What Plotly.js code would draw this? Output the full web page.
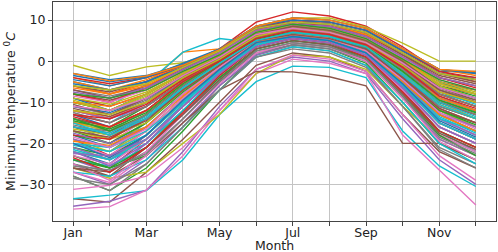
<!DOCTYPE html>
<html>
<head>
<meta charset="utf-8">
<script src="https://cdn.plot.ly/plotly-3.0.1.min.js"></script>
<style>
html,body{margin:0;padding:0;background:#fff;}
#chart{width:498px;height:252px;}
</style>
</head>
<body>
<div id="chart"></div>
<script>
const months = ['Jan','Feb','Mar','Apr','May','Jun','Jul','Aug','Sep','Oct','Nov','Dec'];
const tickLabels = ['Jan','Mar','May','Jul','Sep','Nov'];
const yTicks = [-30,-20,-10,0,10];

const s01 = [-5,-7,-5,-1.5,2.5,7.5,9.5,9,7,2,-3,-4];
const s02 = [-8,-10,-5.8,2.2,3,8,9,8.5,6.5,1.5,-4,-6];
const s03 = [-12,-14,-10,-4,1,6,8,7,4.5,-1,-7,-10];
const s04 = [-6,-8,-5,-1,3,9.5,12,11,8.5,3.5,-2.5,-4.5];
const s05 = [-15,-17,-12,-5,0.5,6,7.5,6.5,4,-2,-9,-12];
const s06 = [-10,-12,-8,-3,1.5,7,9,8,5.5,0,-6,-8];
const s07 = [-18,-20,-14,-6,0,5.5,7,6,3,-4,-12,-15];
const s08 = [-20,-22,-16,-8,-1,5,6.5,5.5,2.5,-5,-13,-17];
const s09 = [-1,-3.5,-1.4,-0.4,2.5,7,10.5,10.5,8.3,4.4,0,0];
const s10 = [-9,-11,-5.5,2.2,5.5,4.5,6,5.5,3.5,-2,-8,-10];
const s11 = [-22,-25,-18,-10,-2,4.5,6,5,2,-6,-15,-19];
const s12 = [-4,-6,-4,-1,2.5,8.5,10,9.5,7.5,3,-2,-3];
const s13 = [-14,-16,-11,-5,0,5.5,7.5,6.5,4,-1.5,-8,-11];
const s14 = [-19,-23,-17,-9,-1.5,5,7,6,3,-4,-12,-16];
const s15 = [-11,-13,-9,-3.5,1,6.5,8.5,7.5,5,-0.5,-6,-9];
const s16 = [-25,-28,-21,-13,-4,3,5,4,1,-7,-17,-21];
const s17 = [-7,-9,-6,-2,2,7.5,9,8.5,6,1,-4,-6];
const s18 = [-16,-19,-13,-6,0,5.5,7,6,3.5,-3,-10,-13];
const s19 = [-21,-24,-19,-11,-3,4,6,5,2,-5.5,-14,-18];
const s20 = [-13,-15,-10,-4.5,0.5,6,8,7,4.5,-1,-7.5,-10.5];
const s21 = [-3,-4.5,-3.5,-0.8,2.8,8,10,9.5,7.5,2.5,-2.5,-2.5];
const s22 = [-17,-19,-14,-7,-0.5,5,7,6,3.5,-3,-10,-14];
const s23 = [-28,-31.5,-26,-17,-7,1.5,4,3,-0.5,-10,-20,-24];
const s24 = [-9,-11,-8,-3,1.5,7,9,8,5.5,0.5,-5,-7];
const s25 = [-24,-27,-20,-12,-3.5,3.5,5.5,4.5,1,-7,-16,-20];
const s26 = [-33.5,-34.3,-27,-19,-10,-1,2,1,-2.5,-13,-22,-26];
const s27 = [-12,-14,-10,-4,0.5,6,8,7,4.5,-1,-7,-10];
const s28 = [-28,-31.5,-25,-16,-6,1,3.5,2.5,-1,-11,-21,-25];
const s29 = [-15,-17,-13,-6,-0.5,5,6.5,5.5,3,-3.5,-11,-14];
const s30 = [-33.5,-32.6,-31.5,-24,-13,-5,-1.2,-1.5,-4,-17,-25.5,-30.5];
const s31 = [-18,-21,-15,-7,-0.5,5,6.5,5.5,2.5,-4.5,-13,-17];
const s32 = [-6,-8,-5.5,-1.5,2.5,8,10,9,7,2,-3,-5];
const s33 = [-10,-12,-9,-3.5,1,6.5,8.5,7.5,5,0,-6,-8.5];
const s34 = [-23,-26,-19,-11,-3,4,6,5,1.5,-6.5,-16,-20];
const s35 = [-35.3,-34.1,-31.4,-22,-11,-2,1,0,-3,-14,-24,-30];
const s36 = [-8,-9.5,-7,-2.5,1.5,6,7.5,6.5,4,-1,-5.5,-7];
const s37 = [-36,-35.4,-31.4,-23,-12,-3,0.5,-0.5,-3,-18,-26.5,-35];
const s38 = [-11,-13,-9.5,-4,0.5,6,8,7,4.5,-1,-7,-9.5];
const s39 = [-26,-28.5,-27,-20,-13,-3,1.5,1,-2,-11,-19,-23];
const s40 = [-20,-22,-17,-9,-1.5,4.5,6.5,5.5,2.5,-5,-14,-18];
const s41 = [-13,-16,-12,-5.5,0,5.5,7.5,6.5,4,-2,-9,-12];
const s42 = [-5,-7,-4.5,-1,3,8.5,10.5,10,8,3,-2,-3.5];
const s43 = [-21,-23,-18,-10,-2.5,4,6,5,2,-6,-15,-19];
const s44 = [-16,-18,-13,-6,0,5.5,7.5,6.5,3.5,-3,-10,-13];
const s45 = [-27,-30,-24,-15,-6,1.5,4,3,0,-9,-19,-23];
const s46 = [-14,-16,-12,-5,0,5,6.5,5.5,3,-3,-10,-13];
const s47 = [-31.2,-30.2,-28,-21,-12,-2,1.5,0.5,-2.5,-13,-23,-29];
const s48 = [-7,-8.5,-6.5,-2,2,7,9,8.5,6,1,-4,-6];
const s49 = [-19,-22,-17,-9,-2,4.5,6.5,5.5,2.5,-5,-13,-17];
const s50 = [-24,-25.5,-21,-13,-4.5,3,5,4,1,-8,-17,-22];
const s51 = [-9,-12,-8,-3,1.5,7,9,8,5.5,0.5,-5,-8];
const s52 = [-22,-24,-18,-10,-2.5,4,6,5,1.5,-6,-15,-19];
const s53 = [-17,-20,-15,-7,-1,5,7,6,3,-4,-12,-15];
const s54 = [-4,-5.5,-4,-1,2.5,8,10,9.5,7.5,2.5,-2.5,-4];
const s55 = [-12,-14,-11,-5,0,5.5,7,6,3.5,-2,-9,-12];
const s56 = [-26,-28,-23,-15,-7,-2.5,-2.6,-3.8,-6,-20,-20,-24];
const s57 = [-20,-23,-17,-9,-1.5,4.5,6.5,5.5,2,-5.5,-14,-18];
const s58 = [-25,-27,-22,-14,-5,2,4,3,0,-9,-18,-22];
const s59 = [-10,-12,-8.5,-3.5,1,6.5,8.5,7.5,5,0,-6,-9];
const s60 = [-27,-28,-24,-16,-7,1,3.5,2.5,-1,-10,-20,-25];
const s61 = [-16,-18,-14,-7,-1,5,7,6,3,-3.5,-11,-14];
const s62 = [-12,-13.5,-10,-4.5,0.5,6,8,7,4.5,-1.5,-8,-11];
const s63 = [-23,-26,-21,-12,-4,3,5,4,1,-7.5,-17,-21];
const s64 = [-8,-10,-6.5,-2,2,7.5,9.5,8.5,6,1,-4,-6.5];
const s65 = [-19,-21,-16,-8,-1.5,4.5,6,5,2,-5,-13,-16];
const s66 = [-6,-7.5,-5,-1.5,2.5,7.5,9.5,9,6.5,1.5,-3,-5];
const s67 = [-25,-29,-22,-13,-5,2,4.5,3.5,0.5,-8,-18,-22];
const s68 = [-14,-17,-12,-5,0.5,6,7.5,6.5,4,-2,-8.5,-12];
const s69 = [-17,-19,-16,-8,-1,5,6.5,5.5,2.5,-4,-12,-16];
const s70 = [-22,-24,-20,-12,-3,3.5,5.5,4.5,1.5,-6.5,-16,-20];
const s71 = [-11,-12.5,-9,-4,0.5,6.5,8.5,7.5,5,0,-6.5,-9];
const s72 = [-15,-16,-12,-5.5,0,5.5,7.5,6.5,4,-2.5,-9,-12];
const s73 = [-18,-20,-15,-7.5,-1,5,6.5,5.5,2.5,-4.5,-12,-15.5];
const s74 = [-13,-15,-11,-5,0,6,8,7,4.5,-1.5,-8,-11];
const s75 = [-21,-24,-18,-9.5,-2,4,6,5,2,-5.5,-14,-18];
const s76 = [-7,-9,-6,-2,2,7.5,9.5,9,6.5,1.5,-3.5,-5.5];
const s77 = [-23,-25,-19,-11,-3,3.5,5.5,4.5,1.5,-7,-16,-20];
const s78 = [-16,-17,-14,-7,-1,4.5,6,5,2.5,-4,-11,-14];
const s79 = [-9,-10.5,-7.5,-3,1.5,7,9,8,5.5,0.5,-5,-7.5];
const s80 = [-20,-21,-17,-10,-2.5,4,6,5,2,-6,-14,-17];
const s81 = [-4.5,-6,-4,-0.5,3,8.5,10,9.5,7.5,2.5,-2,-3];
const s82 = [-10,-11,-8,-3,1.5,7,9,8,5.5,0.5,-5.5,-8];
const s83 = [-14,-17,-13,-6,-0.5,5.5,7,6,3.5,-2.5,-9.5,-12.5];
const s84 = [-18,-19,-14,-7,-1,5,7,6,3,-4,-11.5,-15];
const s85 = [-22,-25.5,-20,-11,-3,4,6,5,1.5,-6,-15,-19];
const s86 = [-26,-27,-21,-13,-4.5,3,5,4,0.5,-8,-17.5,-21.5];
const s87 = [-8.5,-10,-7,-2.5,2,7,9,8,5.5,1,-4.5,-7];
const s88 = [-12.5,-15,-11,-5,0.5,6,8,7,4.5,-1,-8,-11];
const s89 = [-16.5,-18,-15,-7,-0.5,5,7,6,3.5,-3,-10.5,-14];
const s90 = [-20.5,-22,-18,-10,-2.5,4,6,5,2,-5,-13.5,-17.5];
const s91 = [-3.5,-5,-3.8,-1,2.8,8.5,10.5,10,8,3,-2,-2.8];
const s92 = [-6.5,-8,-6,-1.5,2.5,7.5,9.5,9,6.5,2,-3,-4.5];
const s93 = [-24,-26,-23,-14,-5,2.5,4.5,3.5,0.5,-8.5,-18,-23];
const s94 = [-13,-14,-10.5,-4.5,0.5,6,8,7,4.5,-1,-7.5,-10];
const s95 = [-17.5,-20,-16,-8,-1.5,4.5,6.5,5.5,2.5,-4.5,-12.5,-16];
const s96 = [-11.5,-13.5,-10,-4,1,6.5,8,7,4.5,-0.5,-7,-10];
const s97 = [-27,-29.5,-23,-14,-5.5,2,4.5,3.5,0,-9,-19.5,-24];
const s98 = [-15.5,-17.5,-13,-6,0,5.5,7.5,6.5,4,-2,-9.5,-13];
const s99 = [-9.5,-12,-8,-3,1.5,7,8.5,7.5,5,0,-5.5,-8];
const s100 = [-21.5,-24,-19,-10.5,-2.5,4,6,5,2,-6,-15,-19];
const s101 = [-5.5,-7,-5,-1.5,2.5,8,9.5,9,7,2,-3,-4.5];
const s102 = [-19.5,-20.5,-16,-8.5,-1.5,4.5,6.5,5.5,2.5,-5,-13,-17];
const s103 = [-14.5,-16.5,-12.5,-5.5,0,5.5,7,6,3.5,-2.5,-9.5,-12.5];
const s104 = [-23.5,-27,-21,-12.5,-3.5,3.5,5.5,4.5,1,-7.5,-17,-21];
const s105 = [-7.5,-9,-6.5,-2,2,7.5,9,8.5,6,1,-4,-6];
const s106 = [-10.5,-13,-9,-3.5,1,6.5,8.5,7.5,5,0,-6.5,-9.5];
const s107 = [-18.5,-21,-16.5,-8,-1.5,5,6.5,5.5,2.5,-4.5,-12.5,-16.5];
const s108 = [-25.5,-26.5,-22.5,-14,-5,2.5,4.5,3.5,0.5,-8.5,-18.5,-22.5];
const s109 = [-12,-13,-10,-4,0.5,6,8,7,4.5,-1,-7.5,-10];
const s110 = [-16,-17.5,-13.5,-6.5,-0.5,5,7,6,3,-3.5,-10.5,-14];
const s111 = [-20,-23.5,-18,-9.5,-2,4.5,6,5,2,-5.5,-14.5,-18.5];
const s112 = [-3,-4.8,-3.6,-1,2.8,8.5,10.5,10,8,3,-2,-2.5];
const s113 = [-8,-9,-7,-2.5,1.5,7,9,8,5.5,0.5,-4.5,-7];
const s114 = [-13.5,-16,-12,-5,0,5.5,7.5,6.5,4,-1.5,-8.5,-11.5];
const s115 = [-22.5,-23,-19,-11,-3,3.5,5.5,4.5,1.5,-6.5,-16,-20];
const s116 = [-17,-18.5,-14.5,-7,-1,5,6.5,5.5,3,-4,-11.5,-15];
const s117 = [-11,-12,-9,-3.5,1,6.5,8,7,4.5,-0.5,-6.5,-9];
const s118 = [-28.5,-30,-25,-16,-7,1,3,2,-1.5,-11,-21.5,-26];
const s119 = [-6,-7,-5.5,-1.5,2.5,8,9.5,9,7,2,-3,-4.5];
const s120 = [-15,-18,-14,-6.5,-0.5,5,7,6,3.5,-3,-10,-13.5];

const allSeries = [s01,s02,s03,s04,s05,s06,s07,s08,s09,s10,s11,s12,s13,s14,s15,s16,s17,s18,s19,s20,
  s21,s22,s23,s24,s25,s26,s27,s28,s29,s30,s31,s32,s33,s34,s35,s36,s37,s38,s39,s40,
  s41,s42,s43,s44,s45,s46,s47,s48,s49,s50,s51,s52,s53,s54,s55,s56,s57,s58,s59,s60,
  s61,s62,s63,s64,s65,s66,s67,s68,s69,s70,s71,s72,s73,s74,s75,s76,s77,s78,s79,s80,
  s81,s82,s83,s84,s85,s86,s87,s88,s89,s90,s91,s92,s93,s94,s95,s96,s97,s98,s99,s100,
  s101,s102,s103,s104,s105,s106,s107,s108,s109,s110,s111,s112,s113,s114,s115,s116,s117,s118,s119,s120];

const palette = ['#1f77b4','#ff7f0e','#2ca02c','#d62728','#9467bd','#8c564b','#e377c2','#7f7f7f','#bcbd22','#17becf'];
const monthIdx = months.map((m, i) => i);

const traces = allSeries.map((ys, i) => ({
  x: monthIdx,
  y: ys,
  type: 'scatter',
  mode: 'lines',
  line: {color: palette[i % 10], width: 1.4},
  hoverinfo: 'skip',
  showlegend: false
}));

const font = {family: 'DejaVu Sans, sans-serif', size: 12.5, color: '#222'};

const layout = {
  width: 498, height: 252,
  margin: {l: 53, r: 2, t: 2, b: 31},
  paper_bgcolor: '#fff', plot_bgcolor: '#fff',
  font: font,
  showlegend: false,
  xaxis: {
    range: [-0.55, 11.55],
    tickmode: 'array',
    tickvals: tickLabels.map(l => months.indexOf(l)),
    ticktext: tickLabels,
    ticks: 'outside', ticklen: 4, tickwidth: 1, tickcolor: '#444',
    ticklabelstandoff: -4,
    showgrid: true, gridcolor: '#c4c4c4', gridwidth: 1,
    minor: {tickmode: 'linear', tick0: 0, dtick: 1, ticks: 'outside', ticklen: 4, tickwidth: 1, tickcolor: '#444',
            showgrid: true, gridcolor: '#c4c4c4', gridwidth: 1},
    showline: true, mirror: true, linecolor: '#444', linewidth: 1,
    zeroline: false,
    tickfont: font
  },
  yaxis: {
    range: [-38.9, 14.4],
    tickmode: 'array', tickvals: yTicks,
    ticks: 'outside', ticklen: 4, tickwidth: 1, tickcolor: '#444',
    showgrid: true, gridcolor: '#c4c4c4', gridwidth: 1,
    showline: true, mirror: true, linecolor: '#444', linewidth: 1,
    zeroline: false,
    tickfont: font,
    title: {text: 'Minimum temperature <sup>0</sup><i>C</i>', font: font, standoff: 0}
  },
  annotations: [{
    text: 'Month', xref: 'paper', yref: 'paper', x: 0.5, y: -0.114,
    xanchor: 'center', yanchor: 'middle', showarrow: false, font: font
  }]
};

Plotly.newPlot('chart', traces, layout, {staticPlot: true, displayModeBar: false});
</script>
</body>
</html>
